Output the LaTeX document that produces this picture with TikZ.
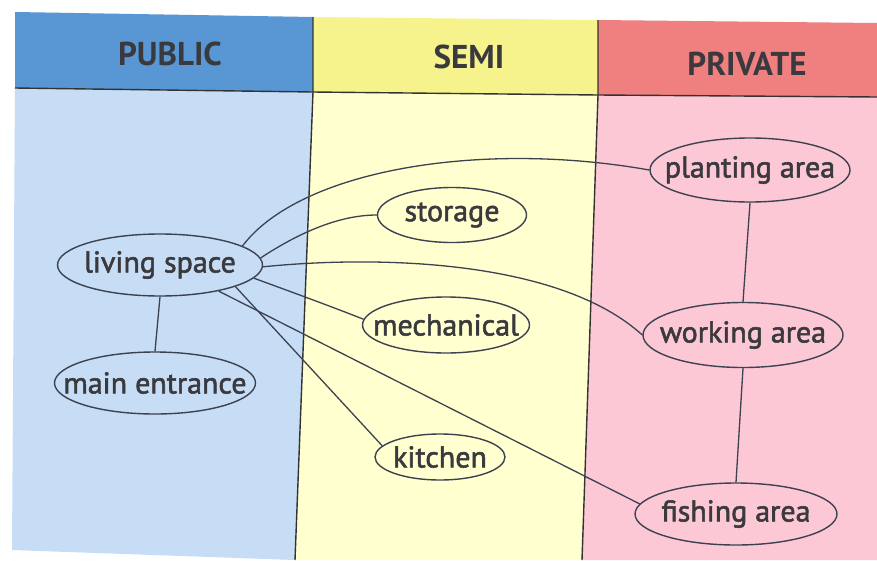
\documentclass[tikz,border=0pt]{standalone}
\usepackage{fontspec}
\setmainfont{PT Sans}
\newfontfamily\nodefont[FakeBold=1.8]{PT Sans}
\usetikzlibrary{shapes.geometric}
\definecolor{bluehead}{RGB}{88,150,212}
\definecolor{bluebody}{RGB}{198,221,245}
\definecolor{yelhead}{RGB}{246,242,140}
\definecolor{yelbody}{RGB}{255,255,208}
\definecolor{pinkhead}{RGB}{240,128,128}
\definecolor{pinkbody}{RGB}{252,200,214}
\definecolor{ink}{RGB}{58,58,62}
\definecolor{edge}{RGB}{60,66,80}
\newcommand{\ztext}[1]{\makebox[0pt]{#1}}
\tikzset{
  area/.style={ellipse, draw=edge, line width=1.4pt, inner sep=0pt, text=ink,
    font=\nodefont\fontsize{30}{32}\selectfont},
  headtxt/.style={text=ink, font=\fontsize{33}{34}\selectfont\bfseries},
  link/.style={draw=edge, line width=1.3pt},
  divider/.style={draw=black!80, line width=1.4pt}
}
\begin{document}
\begin{tikzpicture}[x=1pt,y=-1pt]
\fill[white] (0,0) rectangle (877,560);
\useasboundingbox (0,0) rectangle (877,560);
% corner coordinates
\coordinate (tl) at (15,12);
\coordinate (ta) at (313,17);
\coordinate (tb) at (598,20);
\coordinate (tr) at (877,23);
\coordinate (hl) at (15,88);
\coordinate (ha) at (313,92);
\coordinate (hb) at (598,95);
\coordinate (hr) at (877,97);
\coordinate (bl) at (12,550);
\coordinate (ba) at (295,560);
\coordinate (bb) at (582,560);
\coordinate (br) at (877,560);
% headers
\fill[bluehead] (tl) -- (ta) -- (ha) -- (hl) -- cycle;
\fill[yelhead] (ta) -- (tb) -- (hb) -- (ha) -- cycle;
\fill[pinkhead] (tb) -- (tr) -- (hr) -- (hb) -- cycle;
% bodies
\fill[bluebody] (hl) -- (ha) -- (ba) -- (bl) -- cycle;
\fill[yelbody] (ha) -- (hb) -- (bb) -- (ba) -- cycle;
\fill[pinkbody] (hb) -- (hr) -- (br) -- (bb) -- cycle;
% lines
\draw[divider] (hl) -- (ha) -- (hb) -- (hr);
\draw[divider] (ta) -- (ha) -- (ba);
\draw[divider] (tb) -- (hb) -- (bb);
% header texts
\node[headtxt] (hpub) at (170,54) {PUBLIC};
\node[headtxt] (hsemi) at (469,57) {SEMI};
\node[headtxt] (hpriv) at (747,64) {PRIVATE};
% nodes
\node[area, minimum width=205pt, minimum height=62pt] (ls) at (160,265) {\ztext{living space}};
\node[area, minimum width=201pt, minimum height=62pt] (me2) at (155,383) {\ztext{main entrance}};
\node[area, minimum width=149pt, minimum height=55pt] (st) at (452,215) {\ztext{storage}};
\node[area, minimum width=167pt, minimum height=56pt] (mc) at (446,325) {\ztext{mechanical}};
\node[area, minimum width=130pt, minimum height=46pt] (ki) at (440,457) {\ztext{kitchen}};
\node[area, minimum width=200pt, minimum height=64pt] (pa) at (750,170) {\ztext{planting area}};
\node[area, minimum width=200pt, minimum height=65pt] (wa) at (743,335) {\ztext{working area}};
\node[area, minimum width=202pt, minimum height=62pt] (fa) at (736,514) {\ztext{fishing area}};
% connectors
\draw[link] (ls.south) -- (me2.north);
\draw[link] (pa.south) -- (wa.north);
\draw[link] (wa.south) -- (fa.north);
\draw[link] (ls.13) .. controls (300,170) and (480,140) .. (pa.west);
\draw[link] (ls.4) .. controls (300,232) and (340,215) .. (st.west);
\draw[link] (ls.-1) .. controls (380,255) and (560,260) .. (wa.west);
\draw[link] (ls.-8) .. controls (300,295) and (335,308) .. (mc.176);
\draw[link] (ls.-16) -- (ki.169);
\draw[link] (ls.-24) -- (fa.174);
\end{tikzpicture}
\end{document}
